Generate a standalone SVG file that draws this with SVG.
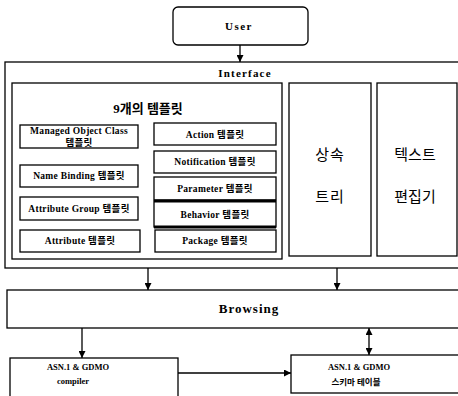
<svg xmlns="http://www.w3.org/2000/svg" width="458" height="396" viewBox="0 0 458 396">
<defs>
<marker id="arr" viewBox="0 0 10 10" refX="10" refY="5" markerWidth="7" markerHeight="7" orient="auto-start-reverse" markerUnits="userSpaceOnUse">
<path d="M0,0 L10,5 L0,10 z" fill="#000"/>
</marker>
<style>
.box{fill:#fff;stroke:#000;stroke-width:1.3}
.en{font-family:"Liberation Serif","Noto Sans CJK KR",serif;font-weight:bold;fill:#000;text-anchor:middle}
.t{font-size:9.5px;letter-spacing:0.3px}
.s{font-size:8.5px}
.kr{font-family:"Noto Sans CJK KR",sans-serif;fill:#000;text-anchor:middle;font-size:15px}
.ln{stroke:#000;stroke-width:1.3;fill:none}
</style>
</defs>
<rect width="458" height="396" fill="#fff"/>

<g id="user">
<rect class="box" x="173" y="7" width="135" height="38" rx="5"/>
<text class="en" x="239" y="30" font-size="11" letter-spacing="1.5">User</text>
</g>

<g id="interface">
<rect class="box" x="5" y="62" width="470" height="206"/>
<text class="en" x="245" y="77" font-size="11" letter-spacing="1.2">Interface</text>
</g>

<g id="templates">
<rect class="box" x="12" y="83" width="270" height="176"/>
<text class="en" x="148" y="113" font-size="13">9개의 템플릿</text>
</g>

<g id="t-moc">
<rect class="box" x="20" y="125" width="118" height="23"/>
<text class="en t" x="79" y="134">Managed Object Class</text>
<text class="en t" x="79" y="146">템플릿</text>
</g>
<g id="t-nb">
<rect class="box" x="20" y="165" width="118" height="22"/>
<text class="en t" x="79" y="179">Name Binding 템플릿</text>
</g>
<g id="t-ag">
<rect class="box" x="20" y="197" width="118" height="23"/>
<text class="en t" x="79" y="212">Attribute Group 템플릿</text>
</g>
<g id="t-attr">
<rect class="box" x="20" y="230" width="120" height="22"/>
<text class="en t" x="80" y="244">Attribute 템플릿</text>
</g>
<g id="t-action">
<rect class="box" x="154" y="123" width="122" height="22"/>
<text class="en t" x="215" y="138">Action 템플릿</text>
</g>
<g id="t-notif">
<rect class="box" x="154" y="151" width="122" height="22"/>
<text class="en t" x="215" y="165">Notification 템플릿</text>
</g>
<g id="t-param">
<rect class="box" x="154" y="177" width="122" height="23"/>
<text class="en t" x="215" y="192">Parameter 템플릿</text>
</g>
<g id="t-behav">
<rect class="box" x="154" y="201" width="122" height="26"/>
<line x1="154" y1="201" x2="276" y2="201" stroke="#000" stroke-width="3"/>
<line x1="154" y1="227" x2="276" y2="227" stroke="#000" stroke-width="3"/>
<text class="en t" x="215" y="218">Behavior 템플릿</text>
</g>
<g id="t-pkg">
<rect class="box" x="155" y="230" width="121" height="22"/>
<text class="en t" x="215" y="244">Package 템플릿</text>
</g>

<g id="inherit">
<rect class="box" x="289" y="83" width="82" height="173"/>
<text class="kr" x="330" y="160" letter-spacing="1">상속</text>
<text class="kr" x="330" y="202" letter-spacing="1">트리</text>
</g>

<g id="editor">
<rect class="box" x="377" y="83" width="80" height="173"/>
<text class="kr" x="415" y="160">텍스트</text>
<text class="kr" x="415" y="202">편집기</text>
</g>

<g id="browsing">
<rect class="box" x="7" y="290" width="470" height="38"/>
<text class="en" x="249" y="313" font-size="13" letter-spacing="1">Browsing</text>
</g>

<g id="compiler">
<rect class="box" x="10" y="358" width="168" height="50"/>
<text class="en s" x="78" y="370">ASN.1 &amp; GDMO</text>
<text class="en s" x="73" y="384">compiler</text>
</g>

<g id="schema">
<rect class="box" x="291" y="355" width="180" height="38"/>
<text class="en s" x="359" y="370">ASN.1 &amp; GDMO</text>
<text class="en s" x="356" y="385">스키마 테이블</text>
</g>

<g id="connectors">
<line class="ln" x1="240" y1="45" x2="240" y2="62" marker-end="url(#arr)"/>
<line class="ln" x1="148" y1="268" x2="148" y2="290" marker-end="url(#arr)"/>
<line class="ln" x1="337" y1="268" x2="337" y2="290" marker-end="url(#arr)"/>
<line class="ln" x1="82" y1="328" x2="82" y2="358" marker-end="url(#arr)"/>
<line class="ln" x1="178" y1="373" x2="291" y2="373" marker-end="url(#arr)"/>
<line class="ln" x1="369" y1="328" x2="369" y2="355" marker-start="url(#arr)" marker-end="url(#arr)"/>
</g>
</svg>
